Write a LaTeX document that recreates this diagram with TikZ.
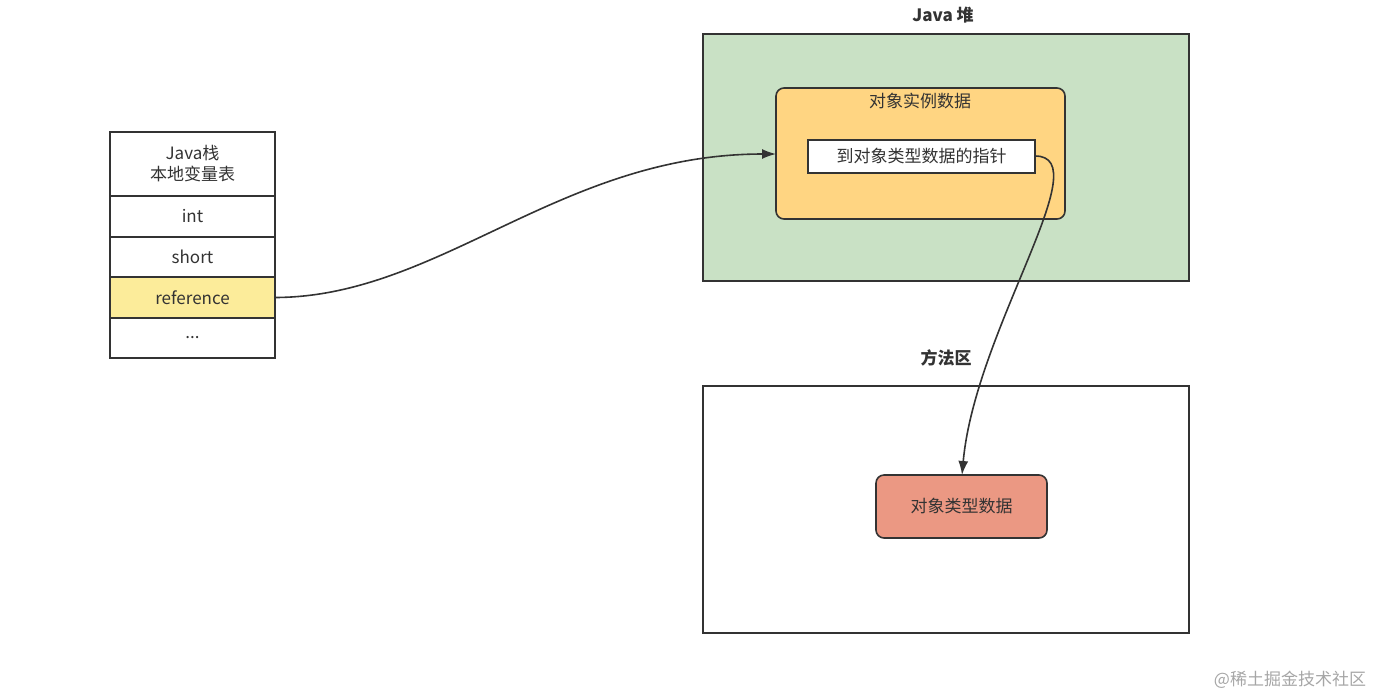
\documentclass[tikz,border=0pt]{standalone}
\usepackage{fontspec}
\setmainfont{Noto Sans CJK SC}
\usetikzlibrary{arrows.meta}
\definecolor{heapg}{HTML}{C9E1C5}
\definecolor{orng}{HTML}{FFD582}
\definecolor{refy}{HTML}{FCEC9A}
\definecolor{redb}{HTML}{EB9883}
\definecolor{ln}{HTML}{333333}
\begin{document}
\begin{tikzpicture}[x=0.5pt,y=-0.5pt,
  cell/.style={draw=ln,line width=0.8pt},
  lbl/.style={font=\fontsize{8.5}{10.5}\selectfont,text=ln,align=center},
  ttl/.style={font=\fontsize{8.5}{10.5}\selectfont\bfseries,text=ln},
  conn/.style={draw=ln,line width=0.8pt,-{Latex[length=7pt,width=5pt]}}]
\useasboundingbox (0,0) rectangle (1374,697);
% stack
\draw[cell,fill=white] (110,132) rectangle (275,196);
\node[lbl] (hdr) at (192.5,164) {Java栈\\本地变量表};
\draw[cell,fill=white] (110,196) rectangle (275,237);
\node[lbl] (int) at (192.5,216.5) {int};
\draw[cell,fill=white] (110,237) rectangle (275,277);
\node[lbl] (short) at (192.5,257) {short};
\draw[cell,fill=refy] (110,277) rectangle (275,318);
\node[lbl] (ref) at (192.5,297.5) {reference};
\coordinate (refR) at (275,297.5);
\draw[cell,fill=white] (110,318) rectangle (275,358);
\node[lbl] (dots) at (192.5,338) {...};
% heap
\node[ttl] (heapT) at (943,15) {Java 堆};
\draw[cell,fill=heapg] (703,34) rectangle (1189,281);
\draw[cell,fill=orng,rounded corners=4pt] (776,88) rectangle (1065,219);
\coordinate (objL) at (776,154);
\node[lbl] (objT) at (920,101) {对象实例数据};
\draw[cell,fill=white] (808,140) rectangle (1035,173);
\node[lbl] (ptr) at (921.5,156.5) {到对象类型数据的指针};
\coordinate (ptrR) at (1035,156);
% method area
\node[ttl] (mT) at (946,358) {方法区};
\draw[cell,fill=white] (703,386) rectangle (1189,633);
\draw[cell,fill=redb,rounded corners=4pt] (876,475) rectangle (1047,538);
\node[lbl] (typ) at (961.5,506.5) {对象类型数据};
\coordinate (typT) at (962,475);
% connectors
\draw[conn] (refR) .. controls (440,297) and (560,154) .. (objL);
\draw[conn] (ptrR) .. controls (1100,156) and (975,330) .. (typT);
\node[font=\fontsize{8.5}{10}\selectfont,text=black!35] (wm) at (1290,680) {@稀土掘金技术社区};
\end{tikzpicture}
\end{document}
